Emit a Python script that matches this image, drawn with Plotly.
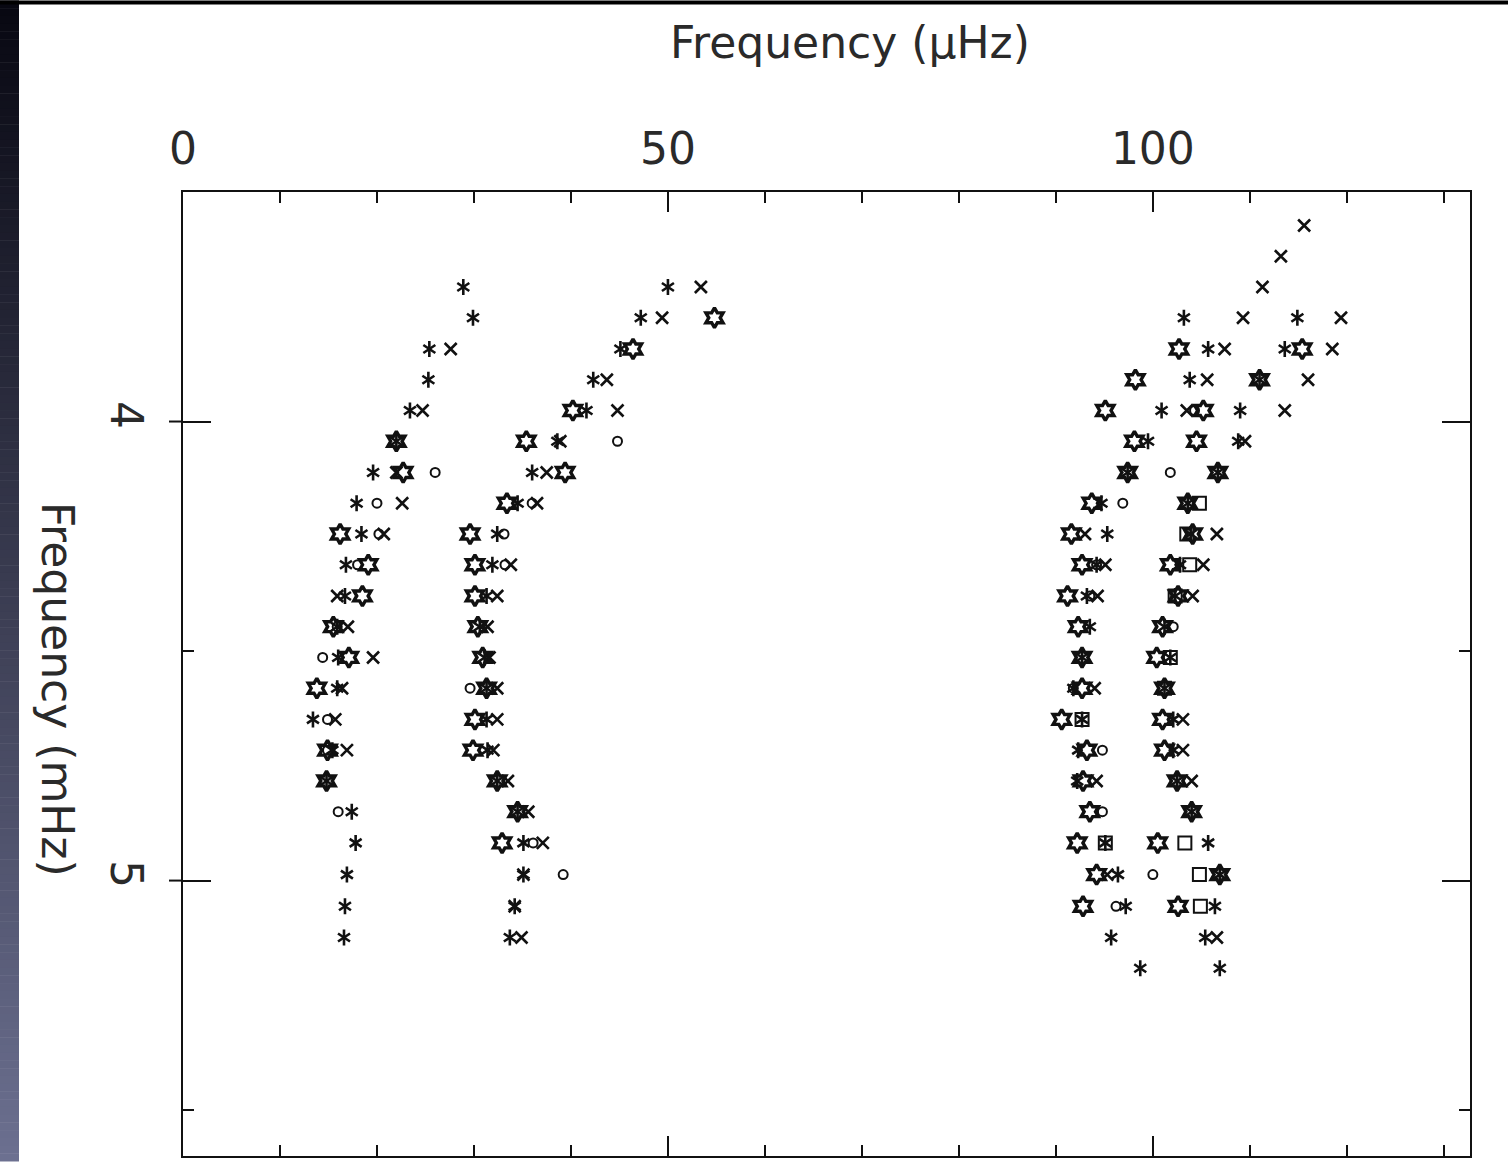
import plotly.graph_objects as go

# ---------------- data (frequency in mHz, reduced frequency in microHz) ----------------
ast_nu = [3.707, 3.707,
          3.774, 3.774, 3.774, 3.774,
          3.842, 3.842, 3.842, 3.842,
          3.909, 3.909, 3.909, 3.909,
          3.976, 3.976, 3.976, 3.976,
          4.043, 4.043, 4.043, 4.043,
          4.111, 4.111, 4.111, 4.111,
          4.178, 4.178, 4.178, 4.178,
          4.245, 4.245, 4.245, 4.245,
          4.312, 4.312, 4.312, 4.312,
          4.380, 4.380, 4.380, 4.380,
          4.447, 4.447, 4.447, 4.447,
          4.514, 4.514, 4.514, 4.514,
          4.581, 4.581, 4.581, 4.581,
          4.649, 4.649, 4.649, 4.649,
          4.716, 4.716, 4.716, 4.716,
          4.783, 4.783, 4.783, 4.783,
          4.850, 4.850, 4.850,
          4.918, 4.918, 4.918, 4.918,
          4.987, 4.987, 4.987, 4.987,
          5.056, 5.056, 5.056, 5.056,
          5.124, 5.124, 5.124, 5.124,
          5.191, 5.191]
ast_dnu = [28.9, 50.0,
           29.9, 47.2, 103.2, 114.9,
           25.4, 45.1, 105.7, 113.6,
           25.3, 42.3, 103.8, 111.0,
           23.4, 41.6, 100.9, 109.0,
           22.0, 38.6, 99.5, 108.8,
           19.6, 36.0, 97.4, 106.7,
           17.9, 34.5, 94.7, 103.6,
           18.4, 32.4, 95.3, 103.9,
           16.8, 31.9, 94.2, 102.8,
           16.7, 31.3, 93.2, 102.3,
           15.9, 30.6, 93.5, 101.2,
           16.0, 31.1, 92.7, 101.8,
           15.9, 31.3, 91.8, 101.2,
           13.4, 31.3, 92.7, 102.1,
           15.4, 31.4, 92.3, 102.1,
           14.8, 32.4, 92.2, 102.5,
           17.4, 34.5, 104.0,
           17.8, 35.1, 95.1, 105.7,
           16.9, 35.1, 96.4, 106.9,
           16.7, 34.2, 97.2, 106.4,
           16.6, 33.7, 95.7, 105.4,
           98.7, 106.9]

x_nu = [3.573, 3.640,
        3.707, 3.707,
        3.774, 3.774, 3.774,
        3.842, 3.842, 3.842,
        3.909, 3.909, 3.909,
        3.976, 3.976, 3.976, 3.976,
        4.043, 4.043,
        4.111, 4.111,
        4.178, 4.178,
        4.245, 4.245, 4.245,
        4.312, 4.312, 4.312,
        4.380, 4.380, 4.380, 4.380,
        4.447, 4.447,
        4.514, 4.514,
        4.581, 4.581, 4.581,
        4.649, 4.649, 4.649,
        4.716, 4.716, 4.716,
        4.783, 4.783, 4.783,
        4.850, 4.918,
        4.987, 4.987,
        5.056,
        5.124, 5.124]
x_dnu = [115.6, 113.2,
         53.4, 111.3,
         49.4, 109.3, 119.4,
         27.6, 107.4, 118.5,
         43.7, 105.6, 116.0,
         24.7, 44.8, 103.5, 113.6,
         38.9, 109.5,
         22.0, 37.5,
         22.6, 36.5,
         20.7, 93.0, 106.6,
         33.8, 95.1, 105.2,
         15.9, 32.4, 94.3, 104.1,
         17.0, 31.4,
         19.6, 31.6,
         16.4, 32.4, 94.0,
         15.7, 32.4, 103.1,
         16.9, 32.0, 103.1,
         33.5, 94.2, 104.0,
         35.6, 37.1,
         35.1, 95.3,
         34.2,
         34.9, 106.6]

hex_nu = [3.774,
          3.842, 3.842, 3.842,
          3.909, 3.909,
          3.976, 3.976, 3.976,
          4.043, 4.043, 4.043, 4.043,
          4.111, 4.111, 4.111, 4.111,
          4.178, 4.178, 4.178,
          4.245, 4.245, 4.245, 4.245,
          4.312, 4.312, 4.312, 4.312,
          4.380, 4.380, 4.380, 4.380,
          4.447, 4.447, 4.447, 4.447,
          4.514, 4.514, 4.514, 4.514,
          4.581, 4.581, 4.581, 4.581,
          4.649, 4.649, 4.649,
          4.716, 4.716, 4.716, 4.716,
          4.783, 4.783, 4.783, 4.783,
          4.850, 4.850, 4.850,
          4.918, 4.918, 4.918,
          4.987, 4.987,
          5.056, 5.056]
hex_dnu = [54.8,
           46.4, 102.7, 115.4,
           98.2, 111.0,
           40.2, 95.1, 105.2,
           22.0, 35.4, 98.1, 104.5,
           22.7, 39.4, 97.4, 106.7,
           33.4, 93.7, 103.6,
           16.2, 29.6, 91.6, 104.1,
           19.1, 30.1, 92.7, 101.8,
           18.5, 30.1, 91.2, 102.6,
           15.5, 30.4, 92.3, 101.0,
           17.1, 30.9, 92.7, 100.4,
           13.8, 31.3, 92.7, 101.2,
           30.1, 90.6, 101.0,
           14.9, 29.9, 93.2, 101.2,
           14.8, 32.4, 92.8, 102.5,
           34.5, 93.5, 104.0,
           32.9, 92.2, 100.5,
           94.2, 106.9,
           92.8, 102.6]

circ_nu = [3.976, 4.043, 4.111, 4.111, 4.178, 4.178, 4.178, 4.245, 4.245,
           4.312, 4.312, 4.312, 4.380, 4.447, 4.447, 4.514, 4.581, 4.581,
           4.649, 4.716, 4.716, 4.850, 4.850, 4.918, 4.987, 4.987, 5.056]
circ_dnu = [104.3, 44.8, 26.0, 101.8, 20.0, 36.0, 96.9, 20.2, 33.1,
            18.0, 33.2, 94.2, 93.5, 15.9, 102.1, 14.4, 29.6, 91.8,
            14.9, 14.9, 94.8, 16.0, 94.8, 36.1, 39.2, 100.0, 96.2]

sq_nu = [4.178, 4.245, 4.312, 4.380, 4.514, 4.581, 4.649, 4.918, 4.918, 4.987, 5.056]
sq_dnu = [104.8, 103.5, 103.8, 102.3, 101.8, 101.2, 92.7, 95.1, 103.3, 104.8, 104.9]

x_ticks = [0, 50, 100]
y_ticks = [4, 5]

# ---------------- figure ----------------
BLK = "#111111"
fig = go.Figure()


def add(xv, yv, symbol, size, lw):
    fig.add_trace(go.Scatter(
        x=xv, y=yv, mode="markers", showlegend=False, hoverinfo="skip",
        marker=dict(symbol=symbol, size=size, color=BLK,
                    line=dict(color=BLK, width=lw))))


# six-armed asterisk built from two three-armed glyphs
add(ast_dnu, ast_nu, "y-up-open", 10, 2.6)
add(ast_dnu, ast_nu, "y-down-open", 10, 2.6)
add(x_dnu, x_nu, "x-thin-open", 12, 2.6)
add(hex_dnu, hex_nu, "hexagram-open", 15, 3.4)
add(circ_dnu, circ_nu, "circle-open", 9, 2.0)
add(sq_dnu, sq_nu, "square-open", 13, 2.0)

W, H = 1508, 1163
L, R, T, B = 183, 38, 192, 5
pw, ph = W - L - R, H - T - B


def px(xp):
    return (xp - L) / pw


def py(yp):
    return (H - B - yp) / ph


shapes = []
# left gradient strip (slide background)
n = 150
for i in range(n):
    f = i / (n - 1)
    r = int(8 + f * 100)
    g = int(8 + f * 104)
    b = int(18 + f * 126)
    shapes.append(dict(type="rect", xref="paper", yref="paper",
                       x0=px(0), x1=px(19), y0=py(H * (i + 1) / n + 0.5), y1=py(H * i / n),
                       fillcolor=f"rgb({r},{g},{b})", line=dict(width=0), layer="above"))
# top black band
shapes.append(dict(type="rect", xref="paper", yref="paper",
                   x0=px(0), x1=px(W), y0=py(4), y1=py(0),
                   fillcolor="black", line=dict(width=0), layer="above"))
# outer part of the major y ticks (they cross the left axis)
for v in y_ticks:
    shapes.append(dict(type="line", xref="paper", yref="y",
                       x0=px(169), x1=px(183), y0=v, y1=v,
                       line=dict(color=BLK, width=2)))

FONT = "DejaVu Sans"
axis_common = dict(showgrid=False, zeroline=False, showline=True, linecolor=BLK,
                   linewidth=2, mirror="ticks", ticks="inside", tickcolor=BLK,
                   tickwidth=2)

fig.update_layout(
    width=W, height=H,
    margin=dict(l=L, r=R, t=T, b=B),
    paper_bgcolor="white", plot_bgcolor="white",
    xaxis=dict(range=[0, 132.7], side="top", tickvals=x_ticks,
               ticktext=[str(v) for v in x_ticks], ticklen=20,
               minor=dict(dtick=10, tick0=0, ticks="inside", ticklen=11,
                          tickcolor=BLK, tickwidth=2),
               tickfont=dict(family=FONT, size=44, color="#2a2a2a"),
               ticklabelstandoff=8, **axis_common),
    yaxis=dict(range=[5.6, 3.5], tickvals=y_ticks,
               ticktext=[str(v) for v in y_ticks], ticklen=28, tickangle=90,
               minor=dict(dtick=0.5, tick0=3.5, ticks="inside", ticklen=11,
                          tickcolor=BLK, tickwidth=2),
               tickfont=dict(family=FONT, size=44, color="#2a2a2a"),
               ticklabelstandoff=17, **axis_common),
    shapes=shapes,
    annotations=[
        dict(text="Frequency (μHz)", xref="paper", yref="paper",
             x=px(850), y=py(42), showarrow=False, xanchor="center", yanchor="middle",
             font=dict(family=FONT, size=44, color="#2a2a2a")),
        dict(text="Frequency (mHz)", xref="paper", yref="paper",
             x=px(57), y=py(690), showarrow=False, xanchor="center", yanchor="middle",
             textangle=90, font=dict(family=FONT, size=44, color="#2a2a2a")),
    ],
)

fig.write_html("out.html", config={"displayModeBar": False},
               post_script="document.body.style.margin='0';document.body.style.padding='0';")
